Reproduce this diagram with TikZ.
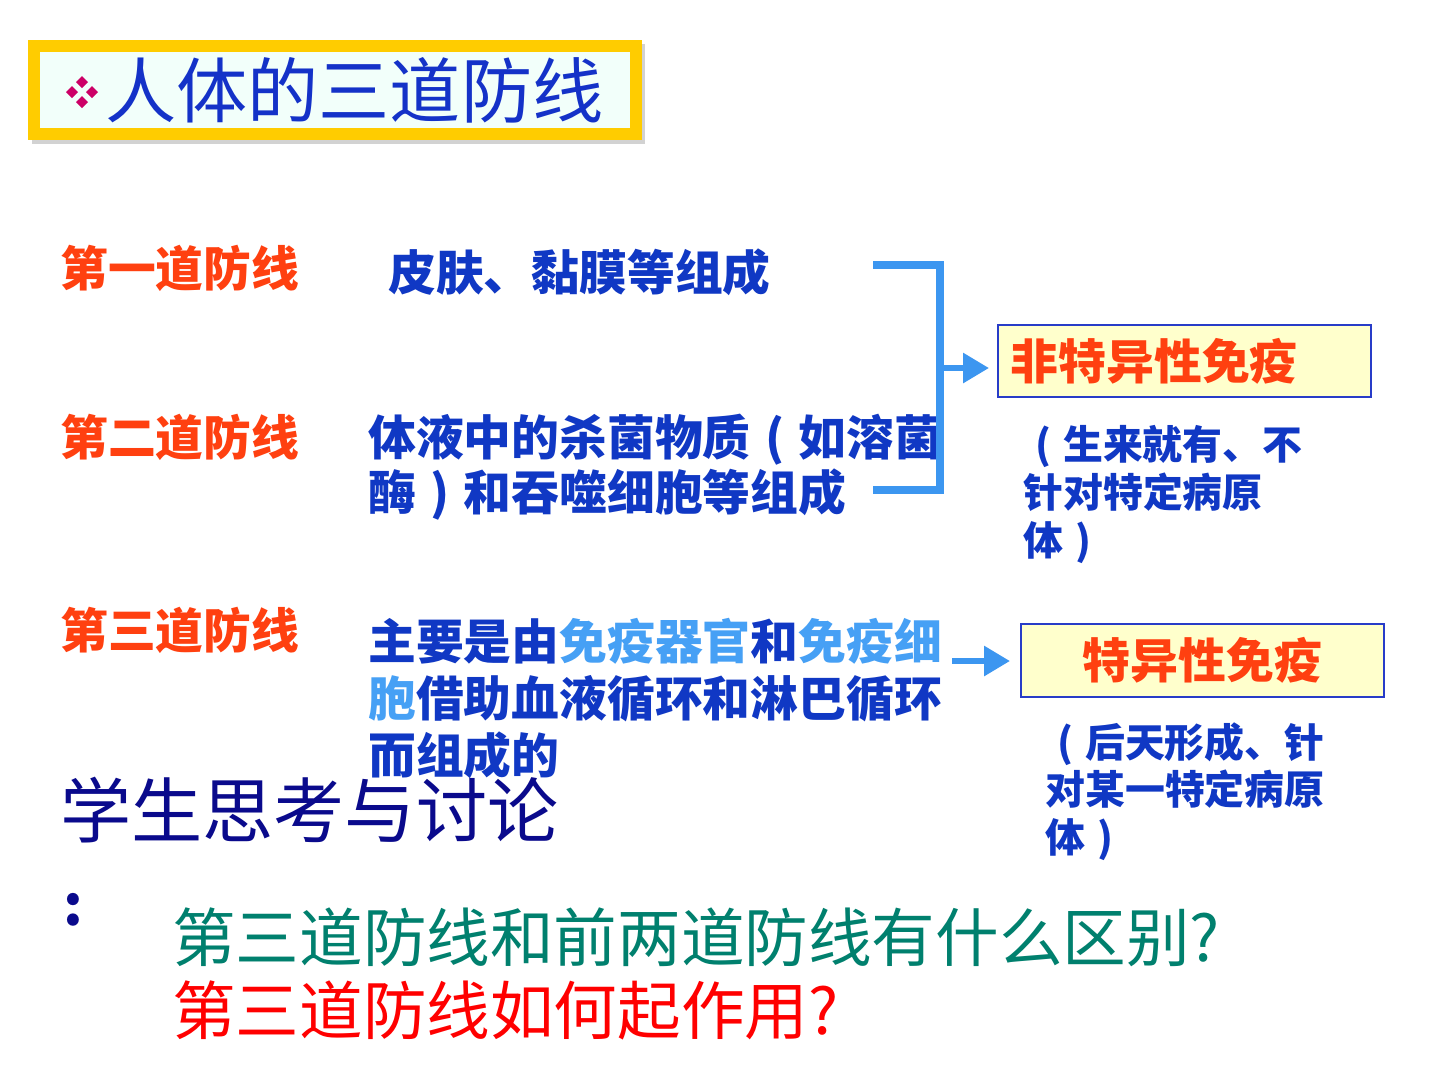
\documentclass[tikz,border=0pt]{standalone}
\usepackage{fontspec}
\newfontfamily\cjk{Noto Sans CJK SC}
\usetikzlibrary{arrows.meta,positioning}
\definecolor{TitleGold}  {RGB}{255,204,0}
\definecolor{TitleFill}  {RGB}{242,255,250}
\definecolor{TitleBlue}  {RGB}{20,50,200}
\definecolor{BulletPink} {RGB}{204,0,102}
\definecolor{LabelRed}   {RGB}{255,64,16}
\definecolor{TextBlue}   {RGB}{16,56,196}
\definecolor{SkyBlue}    {RGB}{70,160,245}
\definecolor{BracketBlue}{RGB}{60,150,240}
\definecolor{BoxFill}    {RGB}{255,255,204}
\definecolor{BoxBorder}  {RGB}{40,60,200}
\definecolor{NavyText}   {RGB}{10,10,140}
\definecolor{TealText}   {RGB}{0,128,110}
\newcommand{\lpar}{\makebox[1em]{(}}
\newcommand{\rpar}{\makebox[1em]{)}}

\begin{document}
\begin{tikzpicture}[x=0.02cm,y=-0.02cm,
  lineLabel/.style={anchor=north west,inner sep=0pt,text=LabelRed,
    font=\cjk\bfseries\fontsize{27.2pt}{31.2pt}\selectfont},
  lineText/.style={anchor=north west,inner sep=0pt,align=left,text=TextBlue,
    font=\cjk\bfseries\fontsize{27.2pt}{31.2pt}\selectfont},
  noteText/.style={anchor=north west,inner sep=0pt,align=left,text=TextBlue,
    font=\cjk\bfseries\fontsize{22.7pt}{27.2pt}\selectfont},
  immuneBox/.style={draw=BoxBorder,line width=1.1pt,fill=BoxFill,anchor=north west,
    text=LabelRed,font=\cjk\bfseries\fontsize{27.2pt}{30pt}\selectfont},
  bracketLine/.style={draw=BracketBlue,line width=0.16cm},
  immuneArrow/.style={draw=BracketBlue,line width=0.12cm,
    -{Triangle[length=0.52cm,width=0.58cm]}}]
\useasboundingbox[fill=white] (0,0) rectangle (1440,1080);

% title
\fill[gray!35] (32,44) rectangle (645,144);
\node[draw=TitleGold,line width=0.24cm,fill=TitleFill,anchor=north west,
      minimum width=12.04cm,minimum height=1.76cm] (titlebox) at (28,40) {};
\foreach \dx/\dy in {0/-10,-10/0,10/0,0/10}
  \fill[BulletPink] (82+\dx,92+\dy) +(0,-6) -- +(6,0) -- +(0,6) -- +(-6,0) -- cycle;
\node[anchor=north west,inner sep=0pt,text=TitleBlue,
      font=\cjk\fontsize{40.5pt}{44pt}\selectfont] (title) at (105,57) {人体的三道防线};

% three lines of defence
\node[lineLabel] (first)  at (60,245) {第一道防线};
\node[lineText]  (firstT) at (388,248) {皮肤、黏膜等组成};
\node[lineLabel] (second) at (60,414) {第二道防线};
\node[lineText]  (secondT) at (368,414) {体液中的杀菌物质\lpar 如溶菌\\酶\rpar 和吞噬细胞等组成};
\node[lineLabel] (third)  at (60,607) {第三道防线};
\node[lineText,font=\cjk\bfseries\fontsize{27.2pt}{32.3pt}\selectfont] (thirdT) at (368,618)
  {主要是由\textcolor{SkyBlue}{免疫器官}和\textcolor{SkyBlue}{免疫细}\\
   \textcolor{SkyBlue}{胞}借助血液循环和淋巴循环\\而组成的};

% immunity boxes
\node[immuneBox,minimum width=7.46cm,minimum height=1.44cm,inner xsep=0.26cm,
      text width=6.94cm,align=left] (nonspec) at (997,324) {非特异性免疫};
\node[noteText] (nonspecT) at (1023,425) {\lpar 生来就有、不\\针对特定病原\\体\rpar};
\node[immuneBox,minimum width=7.26cm,minimum height=1.46cm] (spec) at (1020,623) {特异性免疫};
\node[noteText] (specT) at (1045,722) {\lpar 后天形成、针\\对某一特定病原\\体\rpar};

% connectors
\coordinate (brTop) at (873,265);
\coordinate (brBot) at (873,490);
\coordinate (brMid) at (940,368);
\coordinate (thirdEnd) at (952,661);
\draw[bracketLine] (brTop) -| (brMid) |- (brBot);
\draw[immuneArrow,shorten >=0.16cm] (brMid) -- (brMid -| nonspec.west);
\draw[immuneArrow,shorten >=0.2cm] (thirdEnd) -- (thirdEnd -| spec.west);

% discussion
\node[anchor=north west,inner sep=0pt,text=NavyText,
      font=\cjk\fontsize{40.5pt}{44pt}\selectfont] (think) at (60,777) {学生思考与讨论};
\node[text=NavyText,inner sep=0pt,font=\cjk\bfseries\fontsize{32pt}{34pt}\selectfont] (colon) at (73,910) {:};
\node[anchor=north west,inner sep=0pt,align=left,
      font=\cjk\fontsize{36.2pt}{42pt}\selectfont] (question) at (172,907)
  {\textcolor{TealText}{第三道防线和前两道防线有什么区别?}\\
   \textcolor{red}{第三道防线如何起作用?}};
\end{tikzpicture}
\end{document}
